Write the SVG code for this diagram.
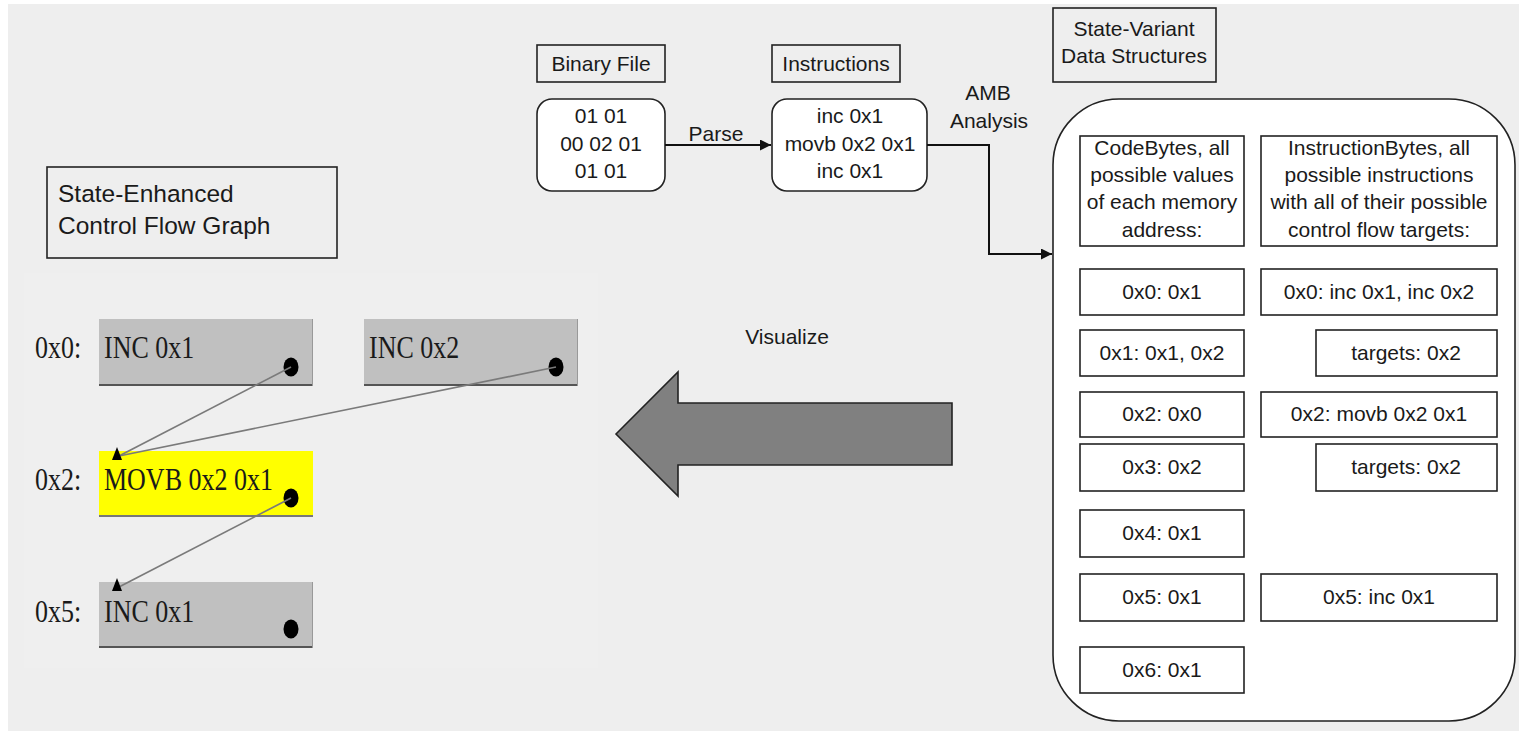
<svg xmlns="http://www.w3.org/2000/svg" width="1519" height="731" viewBox="0 0 1519 731">
<defs>
<style>
.t{font-family:"Liberation Sans",Arial,sans-serif;font-size:21px;fill:#1a1a1a;}
.c{text-anchor:middle;}
.box{fill:#fff;stroke:#222;stroke-width:1.6;}
.lbl{fill:none;stroke:#222;stroke-width:1.6;}
.cfg{fill:#c0c0c0;}
.tm{font-family:"Liberation Serif","Times New Roman",serif;font-size:26px;fill:#1a1a1a;}
.edge{stroke:#7a7a7a;stroke-width:1.7;fill:none;}
.flow{stroke:#111;stroke-width:2;fill:none;}
</style>
<marker id="ah" viewBox="0 0 10 10" refX="10" refY="5" markerWidth="12" markerHeight="11" orient="auto" markerUnits="userSpaceOnUse">
<path d="M0,0 L10,5 L0,10 z" fill="#111"/>
</marker>
</defs>
<rect x="0" y="0" width="1519" height="731" fill="#fff"/>
<rect x="8" y="4" width="1511" height="727" fill="#eeeeee"/>
<rect x="24" y="273" width="574" height="395" fill="#efefef"/>

<!-- CFG title -->
<g id="cfg-title">
<rect x="47" y="167" width="290" height="91" class="lbl"/>
<text class="t" x="58" y="202" style="font-size:24.5px">State-Enhanced</text>
<text class="t" x="58" y="234" style="font-size:24.5px">Control Flow Graph</text>
</g>

<!-- CFG nodes -->
<g id="cfg-labels">
<text class="tm" transform="translate(35,358) scale(1,1.2)">0x0:</text>
<text class="tm" transform="translate(35,490) scale(1,1.2)">0x2:</text>
<text class="tm" transform="translate(35,622) scale(1,1.2)">0x5:</text>
</g>
<g id="cfg-n0">
<rect x="99" y="319" width="214" height="67" class="cfg"/>
<line x1="99" y1="385" x2="313" y2="385" stroke="#555" stroke-width="2"/>
<line x1="312.5" y1="319" x2="312.5" y2="386" stroke="#999" stroke-width="1"/>
<text class="tm" transform="translate(104,358) scale(1,1.2)">INC 0x1</text>
<ellipse cx="291" cy="367" rx="7.5" ry="9.5" fill="#000"/>
</g>
<g id="cfg-n1">
<rect x="364" y="319" width="214" height="67" class="cfg"/>
<line x1="364" y1="385" x2="578" y2="385" stroke="#555" stroke-width="2"/>
<line x1="577.5" y1="319" x2="577.5" y2="386" stroke="#999" stroke-width="1"/>
<text class="tm" transform="translate(369,358) scale(1,1.2)">INC 0x2</text>
<ellipse cx="556" cy="367" rx="7.5" ry="9.5" fill="#000"/>
</g>
<g id="cfg-n2">
<rect x="99" y="451" width="214" height="66" fill="#ffff00"/>
<line x1="99" y1="516" x2="313" y2="516" stroke="#777" stroke-width="2"/>
<text class="tm" transform="translate(104,490) scale(1,1.2)">MOVB 0x2 0x1</text>
<ellipse cx="291" cy="498" rx="7.5" ry="9.5" fill="#000"/>
</g>
<g id="cfg-n3">
<rect x="99" y="582" width="214" height="66" class="cfg"/>
<line x1="99" y1="647" x2="313" y2="647" stroke="#555" stroke-width="2"/>
<line x1="312.5" y1="582" x2="312.5" y2="648" stroke="#999" stroke-width="1"/>
<text class="tm" transform="translate(104,622) scale(1,1.2)">INC 0x1</text>
<ellipse cx="291" cy="629" rx="7.5" ry="9.5" fill="#000"/>
</g>

<!-- top flow -->
<g id="binary-label">
<rect x="537" y="45" width="128" height="37" class="lbl"/>
<text class="t c" x="601" y="71">Binary File</text>
</g>
<g id="binary">
<rect x="537" y="99" width="128" height="92" rx="15" class="box"/>
<text class="t c" x="601" y="123">01 01</text>
<text class="t c" x="601" y="151">00 02 01</text>
<text class="t c" x="601" y="178">01 01</text>
</g>
<g id="instr-label">
<rect x="772" y="45" width="128" height="37" class="lbl"/>
<text class="t c" x="836" y="71">Instructions</text>
</g>
<g id="instr">
<rect x="772" y="99" width="155" height="92" rx="15" class="box"/>
<text class="t c" x="850" y="123">inc 0x1</text>
<text class="t c" x="850" y="151">movb 0x2 0x1</text>
<text class="t c" x="850" y="178">inc 0x1</text>
</g>

<g id="sv-label">
<rect x="1053" y="8" width="163" height="74" class="lbl"/>
<text class="t c" x="1134" y="36">State-Variant</text>
<text class="t c" x="1134" y="63">Data Structures</text>
</g>

<g id="ds">
<rect x="1053" y="99" width="462" height="622" rx="66" ry="66" class="box"/>
</g>
<g id="ds-codebytes">
<rect x="1080" y="136" width="164" height="110" class="lbl"/>
<text class="t c" x="1162" y="155">CodeBytes, all</text>
<text class="t c" x="1162" y="182">possible values</text>
<text class="t c" x="1162" y="209">of each memory</text>
<text class="t c" x="1162" y="237">address:</text>
</g>
<g id="ds-instrbytes">
<rect x="1261" y="136" width="236" height="110" class="lbl"/>
<text class="t c" x="1379" y="155">InstructionBytes, all</text>
<text class="t c" x="1379" y="182">possible instructions</text>
<text class="t c" x="1379" y="209">with all of their possible</text>
<text class="t c" x="1379" y="237">control flow targets:</text>
</g>
<g id="cb0"><rect x="1080" y="269" width="164" height="46" class="lbl"/><text class="t c" x="1162" y="299">0x0: 0x1</text></g>
<g id="ib0"><rect x="1261" y="269" width="236" height="46" class="lbl"/><text class="t c" x="1379" y="299">0x0: inc 0x1, inc 0x2</text></g>
<g id="cb1"><rect x="1080" y="330" width="164" height="46" class="lbl"/><text class="t c" x="1162" y="360">0x1: 0x1, 0x2</text></g>
<g id="ib0t"><rect x="1316" y="330" width="181" height="46" class="lbl"/><text class="t c" x="1406" y="360">targets: 0x2</text></g>
<g id="cb2"><rect x="1080" y="392" width="164" height="45" class="lbl"/><text class="t c" x="1162" y="421">0x2: 0x0</text></g>
<g id="ib2"><rect x="1261" y="392" width="236" height="45" class="lbl"/><text class="t c" x="1379" y="421">0x2: movb 0x2 0x1</text></g>
<g id="cb3"><rect x="1080" y="444" width="164" height="47" class="lbl"/><text class="t c" x="1162" y="474">0x3: 0x2</text></g>
<g id="ib2t"><rect x="1316" y="444" width="181" height="47" class="lbl"/><text class="t c" x="1406" y="474">targets: 0x2</text></g>
<g id="cb4"><rect x="1080" y="510" width="164" height="47" class="lbl"/><text class="t c" x="1162" y="540">0x4: 0x1</text></g>
<g id="cb5"><rect x="1080" y="574" width="164" height="47" class="lbl"/><text class="t c" x="1162" y="604">0x5: 0x1</text></g>
<g id="ib5"><rect x="1261" y="574" width="236" height="47" class="lbl"/><text class="t c" x="1379" y="604">0x5: inc 0x1</text></g>
<g id="cb6"><rect x="1080" y="647" width="164" height="46" class="lbl"/><text class="t c" x="1162" y="677">0x6: 0x1</text></g>

<!-- visualize -->
<g id="visualize">
<text class="t c" x="787" y="344">Visualize</text>
<polygon points="616,434 678,372 678,403 952,403 952,465 678,465 678,496" fill="#808080" stroke="#222" stroke-width="1.6" stroke-linejoin="miter"/>
</g>

<g id="connectors">
<line x1="665" y1="145" x2="771" y2="145" class="flow" marker-end="url(#ah)"/>
<text class="t c" x="716" y="141">Parse</text>
<polyline points="927,145 989,145 989,254 1052,254" class="flow" marker-end="url(#ah)"/>
<text class="t c" x="988" y="100">AMB</text>
<text class="t c" x="989" y="128">Analysis</text>
<line x1="291" y1="367" x2="119" y2="456" class="edge"/>
<line x1="556" y1="367" x2="119" y2="456" class="edge"/>
<line x1="291" y1="498" x2="119" y2="587" class="edge"/>
<polygon points="117,447 112,460 122,460" fill="#000"/>
<polygon points="117,578 112,591 122,591" fill="#000"/>
</g>
</svg>
